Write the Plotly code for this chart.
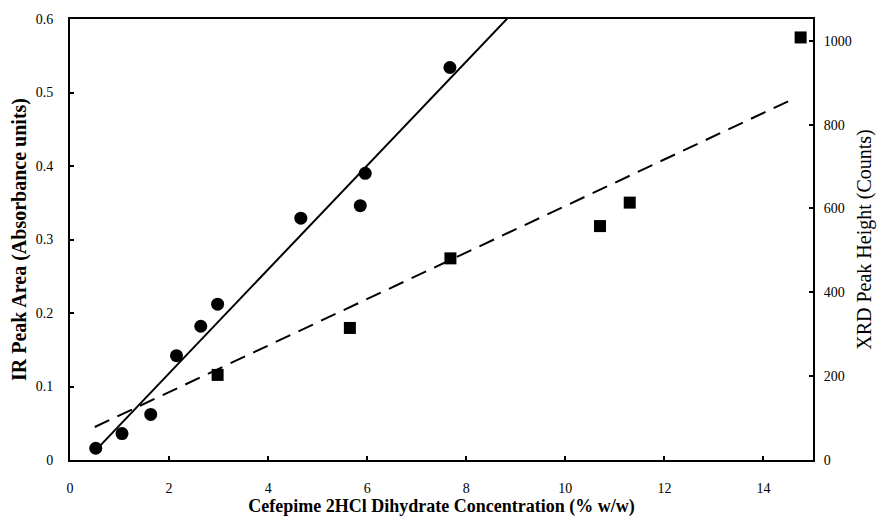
import numpy as np
import plotly.graph_objects as go

# IR peak area vs. concentration (circles, left axis)
ir_conc = [0.52, 1.05, 1.63, 2.15, 2.64, 2.98, 4.66, 5.86, 5.96, 7.67]
ir_area = [0.016, 0.036, 0.062, 0.142, 0.182, 0.212, 0.329, 0.346, 0.390, 0.534]

# XRD peak height vs. concentration (squares, right axis)
xrd_conc = [2.98, 5.65, 7.68, 10.70, 11.30, 14.75]
xrd_height = [203, 315, 481, 558, 614, 1008]

# Calibration lines: [slope, intercept] and concentration span
ir_fit = [0.0707, -0.0235]
ir_fit_span = [0.60, 9.5]
xrd_fit = [55.5, 51.0]
xrd_fit_span = [0.50, 14.65]

x_ticks = [0, 2, 4, 6, 8, 10, 12, 14]
ir_ticks = [0, 0.1, 0.2, 0.3, 0.4, 0.5, 0.6]
xrd_ticks = [0, 200, 400, 600, 800, 1000]

FONT = "Liberation Serif"

ir_x = np.array(ir_fit_span)
xrd_x = np.array(xrd_fit_span)

fig = go.Figure()
fig.add_trace(go.Scatter(
    x=ir_x, y=ir_fit[0] * ir_x + ir_fit[1], mode="lines",
    line=dict(color="black", width=2), showlegend=False, hoverinfo="skip"))
fig.add_trace(go.Scatter(
    x=ir_conc, y=ir_area, mode="markers",
    marker=dict(symbol="circle", size=13, color="black"), showlegend=False))
fig.add_trace(go.Scatter(
    x=xrd_x, y=xrd_fit[0] * xrd_x + xrd_fit[1], mode="lines", yaxis="y2",
    line=dict(color="black", width=2, dash="16px,9px"), showlegend=False,
    hoverinfo="skip"))
fig.add_trace(go.Scatter(
    x=xrd_conc, y=xrd_height, mode="markers", yaxis="y2",
    marker=dict(symbol="square", size=12, color="black"), showlegend=False))

axis_common = dict(
    showgrid=False, zeroline=False, showline=True, linecolor="black",
    linewidth=2, ticks="inside", ticklen=4, tickwidth=1.5, tickcolor="black",
    tickfont=dict(family=FONT, size=14, color="black"),
)

fig.update_layout(
    width=884, height=525,
    margin=dict(l=70, r=69, t=15, b=65),
    paper_bgcolor="white", plot_bgcolor="white",
    font=dict(family=FONT, color="black"),
    xaxis=dict(
        range=[0, 15], tickvals=x_ticks, mirror=True, ticklabelstandoff=14,
        title=dict(text="<b>Cefepime 2HCl Dihydrate Concentration (% w/w)</b>",
                   font=dict(family=FONT, size=18), standoff=5),
        **axis_common),
    yaxis=dict(
        range=[0, 0.6], tickvals=ir_ticks, ticklabelstandoff=12,
        title=dict(text="<b>IR Peak Area (Absorbance units)</b>",
                   font=dict(family=FONT, size=20), standoff=4),
        **axis_common),
    yaxis2=dict(
        range=[0, 1052], tickvals=xrd_ticks, overlaying="y", side="right",
        ticklabelstandoff=6,
        title=dict(text="XRD Peak Height (Counts)",
                   font=dict(family=FONT, size=20), standoff=6),
        **axis_common),
)

fig.write_html("out.html")
